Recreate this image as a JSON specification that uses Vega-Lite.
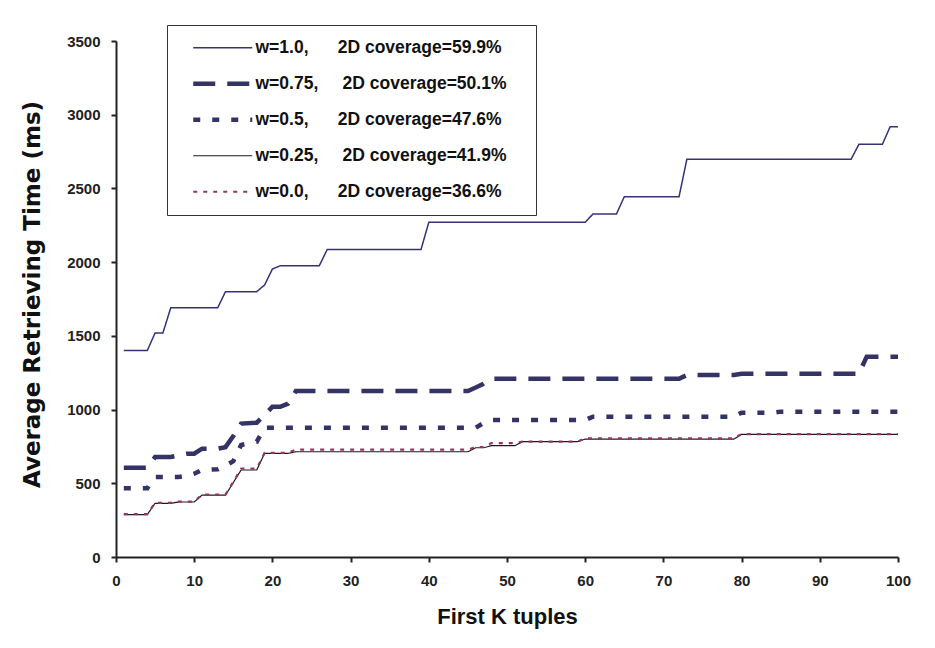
{
  "$schema": "https://vega.github.io/schema/vega-lite/v6.json",
  "width": 782,
  "height": 516,
  "autosize": {"type": "none"},
  "padding": {"left": 116, "top": 41, "right": 37, "bottom": 91},
  "background": "white",
  "config": {
    "view": {"stroke": null},
    "font": "Liberation Sans",
    "legend": {
      "orient": "none",
      "legendX": 51,
      "legendY": -16,
      "title": null,
      "symbolType": "M-6,0H6",
      "symbolSize": 96.7,
      "labelFont": "Liberation Sans",
      "labelFontSize": 17.5,
      "labelFontWeight": "bold",
      "labelColor": "#111111",
      "symbolOffset": 33,
      "labelOffset": 24,
      "labelLimit": 600,
      "padding": 14,
      "rowPadding": 17,
      "strokeColor": "#333333",
      "fillColor": "white"
    }
  },
  "data": {
    "values": [
      {"K": 1, "time": 1400, "w": "1.0"}, {"K": 4, "time": 1400, "w": "1.0"}, {"K": 5, "time": 1520, "w": "1.0"}, {"K": 6, "time": 1520, "w": "1.0"}, {"K": 7, "time": 1690, "w": "1.0"}, {"K": 13, "time": 1690, "w": "1.0"}, {"K": 14, "time": 1800, "w": "1.0"}, {"K": 18, "time": 1800, "w": "1.0"}, {"K": 19, "time": 1845, "w": "1.0"}, {"K": 20, "time": 1953, "w": "1.0"}, {"K": 21, "time": 1976, "w": "1.0"}, {"K": 26, "time": 1976, "w": "1.0"}, {"K": 27, "time": 2085, "w": "1.0"}, {"K": 39, "time": 2085, "w": "1.0"}, {"K": 40, "time": 2270, "w": "1.0"}, {"K": 60, "time": 2270, "w": "1.0"}, {"K": 61, "time": 2327, "w": "1.0"}, {"K": 64, "time": 2327, "w": "1.0"}, {"K": 65, "time": 2444, "w": "1.0"}, {"K": 72, "time": 2444, "w": "1.0"}, {"K": 73, "time": 2698, "w": "1.0"}, {"K": 94, "time": 2698, "w": "1.0"}, {"K": 95, "time": 2799, "w": "1.0"}, {"K": 98, "time": 2799, "w": "1.0"}, {"K": 99, "time": 2919, "w": "1.0"}, {"K": 100, "time": 2919, "w": "1.0"},
      {"K": 1, "time": 606, "w": "0.75"}, {"K": 4, "time": 606, "w": "0.75"}, {"K": 5, "time": 678, "w": "0.75"}, {"K": 7, "time": 678, "w": "0.75"}, {"K": 8, "time": 690, "w": "0.75"}, {"K": 9, "time": 701, "w": "0.75"}, {"K": 10, "time": 701, "w": "0.75"}, {"K": 11, "time": 735, "w": "0.75"}, {"K": 13, "time": 735, "w": "0.75"}, {"K": 14, "time": 745, "w": "0.75"}, {"K": 15, "time": 820, "w": "0.75"}, {"K": 16, "time": 905, "w": "0.75"}, {"K": 18, "time": 911, "w": "0.75"}, {"K": 19, "time": 963, "w": "0.75"}, {"K": 20, "time": 1019, "w": "0.75"}, {"K": 21, "time": 1019, "w": "0.75"}, {"K": 22, "time": 1040, "w": "0.75"}, {"K": 23, "time": 1126, "w": "0.75"}, {"K": 45, "time": 1126, "w": "0.75"}, {"K": 46, "time": 1150, "w": "0.75"}, {"K": 47, "time": 1175, "w": "0.75"}, {"K": 48, "time": 1209, "w": "0.75"}, {"K": 72, "time": 1209, "w": "0.75"}, {"K": 73, "time": 1234, "w": "0.75"}, {"K": 79, "time": 1234, "w": "0.75"}, {"K": 80, "time": 1243, "w": "0.75"}, {"K": 95, "time": 1243, "w": "0.75"}, {"K": 96, "time": 1359, "w": "0.75"}, {"K": 100, "time": 1359, "w": "0.75"},
      {"K": 1, "time": 466, "w": "0.5"}, {"K": 4, "time": 466, "w": "0.5"}, {"K": 5, "time": 543, "w": "0.5"}, {"K": 8, "time": 543, "w": "0.5"}, {"K": 9, "time": 550, "w": "0.5"}, {"K": 10, "time": 565, "w": "0.5"}, {"K": 11, "time": 590, "w": "0.5"}, {"K": 13, "time": 595, "w": "0.5"}, {"K": 14, "time": 620, "w": "0.5"}, {"K": 15, "time": 650, "w": "0.5"}, {"K": 16, "time": 760, "w": "0.5"}, {"K": 17, "time": 770, "w": "0.5"}, {"K": 18, "time": 782, "w": "0.5"}, {"K": 19, "time": 877, "w": "0.5"}, {"K": 46, "time": 877, "w": "0.5"}, {"K": 47, "time": 909, "w": "0.5"}, {"K": 48, "time": 929, "w": "0.5"}, {"K": 60, "time": 929, "w": "0.5"}, {"K": 61, "time": 952, "w": "0.5"}, {"K": 79, "time": 952, "w": "0.5"}, {"K": 80, "time": 979, "w": "0.5"}, {"K": 84, "time": 979, "w": "0.5"}, {"K": 85, "time": 986, "w": "0.5"}, {"K": 100, "time": 986, "w": "0.5"},
      {"K": 1, "time": 288, "w": "0.25"}, {"K": 4, "time": 288, "w": "0.25"}, {"K": 5, "time": 364, "w": "0.25"}, {"K": 7, "time": 364, "w": "0.25"}, {"K": 8, "time": 373, "w": "0.25"}, {"K": 10, "time": 373, "w": "0.25"}, {"K": 11, "time": 420, "w": "0.25"}, {"K": 14, "time": 420, "w": "0.25"}, {"K": 15, "time": 505, "w": "0.25"}, {"K": 16, "time": 590, "w": "0.25"}, {"K": 18, "time": 590, "w": "0.25"}, {"K": 19, "time": 703, "w": "0.25"}, {"K": 22, "time": 703, "w": "0.25"}, {"K": 23, "time": 714, "w": "0.25"}, {"K": 45, "time": 714, "w": "0.25"}, {"K": 46, "time": 741, "w": "0.25"}, {"K": 47, "time": 741, "w": "0.25"}, {"K": 48, "time": 755, "w": "0.25"}, {"K": 51, "time": 755, "w": "0.25"}, {"K": 52, "time": 782, "w": "0.25"}, {"K": 59, "time": 782, "w": "0.25"}, {"K": 60, "time": 800, "w": "0.25"}, {"K": 79, "time": 800, "w": "0.25"}, {"K": 80, "time": 832, "w": "0.25"}, {"K": 100, "time": 832, "w": "0.25"},
      {"K": 1, "time": 291, "w": "0.0"}, {"K": 4, "time": 291, "w": "0.0"}, {"K": 5, "time": 367, "w": "0.0"}, {"K": 7, "time": 367, "w": "0.0"}, {"K": 8, "time": 376, "w": "0.0"}, {"K": 10, "time": 376, "w": "0.0"}, {"K": 11, "time": 423, "w": "0.0"}, {"K": 14, "time": 423, "w": "0.0"}, {"K": 15, "time": 510, "w": "0.0"}, {"K": 16, "time": 600, "w": "0.0"}, {"K": 18, "time": 600, "w": "0.0"}, {"K": 19, "time": 706, "w": "0.0"}, {"K": 22, "time": 706, "w": "0.0"}, {"K": 23, "time": 728, "w": "0.0"}, {"K": 45, "time": 728, "w": "0.0"}, {"K": 46, "time": 746, "w": "0.0"}, {"K": 47, "time": 746, "w": "0.0"}, {"K": 48, "time": 773, "w": "0.0"}, {"K": 51, "time": 773, "w": "0.0"}, {"K": 52, "time": 782, "w": "0.0"}, {"K": 59, "time": 782, "w": "0.0"}, {"K": 60, "time": 805, "w": "0.0"}, {"K": 79, "time": 805, "w": "0.0"}, {"K": 80, "time": 834, "w": "0.0"}, {"K": 100, "time": 834, "w": "0.0"}
    ]
  },
  "encoding": {
    "x": {
      "field": "K",
      "type": "quantitative",
      "scale": {"domain": [0, 100], "nice": false, "zero": false},
      "axis": {
        "values": [0, 10, 20, 30, 40, 50, 60, 70, 80, 90, 100],
        "title": "First K tuples",
        "titleFont": "Liberation Sans",
        "titleFontSize": 22,
        "titleFontWeight": "bold",
        "titleColor": "#111111",
        "titlePadding": 18,
        "labelFont": "Liberation Sans",
        "labelFontSize": 15,
        "labelFontWeight": "bold",
        "labelColor": "#222222",
        "labelPadding": 11,
        "labelFlush": false,
        "tickSize": 5,
        "tickWidth": 2,
        "tickColor": "#222222",
        "domainWidth": 2,
        "domainColor": "#222222",
        "grid": false
      }
    },
    "y": {
      "field": "time",
      "type": "quantitative",
      "scale": {"domain": [0, 3500], "nice": false},
      "axis": {
        "values": [0, 500, 1000, 1500, 2000, 2500, 3000, 3500],
        "format": "d",
        "title": "Average Retrieving Time (ms)",
        "titleFont": "DejaVu Sans",
        "titleFontSize": 23,
        "titleFontWeight": "bold",
        "titleColor": "#111111",
        "titlePadding": 22,
        "titleY": 253,
        "labelFont": "Liberation Sans",
        "labelFontSize": 15,
        "labelFontWeight": "bold",
        "labelColor": "#222222",
        "labelPadding": 11,
        "labelFlush": false,
        "tickSize": 5,
        "tickWidth": 2,
        "tickColor": "#222222",
        "domainWidth": 2,
        "domainColor": "#222222",
        "grid": false
      }
    },
    "color": {
      "field": "w",
      "type": "nominal",
      "scale": {"domain": ["1.0", "0.75", "0.5", "0.25", "0.0"], "range": ["#333377", "#333366", "#333366", "#1a1a1a", "#993366"]},
      "legend": {
        "symbolStrokeWidth": {"expr": "datum.value == '0.75' || datum.value == '0.5' ? 4.5 : datum.value == '0.0' ? 2.2 : datum.value == '0.25' ? 1.2 : 1.5"},
        "labelExpr": "datum.label == '1.0' ? 'w=1.0,\u00a0\u00a0\u00a0\u00a0\u00a0\u00a02D coverage=59.9%\u00a0\u00a0\u00a0\u00a0\u200b' : datum.label == '0.75' ? 'w=0.75,\u00a0\u00a0\u00a0\u00a0\u00a02D coverage=50.1%' : datum.label == '0.5' ? 'w=0.5,\u00a0\u00a0\u00a0\u00a0\u00a0\u00a02D coverage=47.6%' : datum.label == '0.25' ? 'w=0.25,\u00a0\u00a0\u00a0\u00a0\u00a02D coverage=41.9%' : 'w=0.0,\u00a0\u00a0\u00a0\u00a0\u00a0\u00a02D coverage=36.6%'"
      }
    },
    "strokeDash": {
      "field": "w",
      "type": "nominal",
      "scale": {"domain": ["1.0", "0.75", "0.5", "0.25", "0.0"], "range": [[1, 0], [22, 12], [7, 12], [1, 0], [4, 6]]},
      "legend": {
        "symbolStrokeWidth": {"expr": "datum.value == '0.75' || datum.value == '0.5' ? 4.5 : datum.value == '0.0' ? 2.2 : datum.value == '0.25' ? 1.2 : 1.5"},
        "labelExpr": "datum.label == '1.0' ? 'w=1.0,\u00a0\u00a0\u00a0\u00a0\u00a0\u00a02D coverage=59.9%\u00a0\u00a0\u00a0\u00a0\u200b' : datum.label == '0.75' ? 'w=0.75,\u00a0\u00a0\u00a0\u00a0\u00a02D coverage=50.1%' : datum.label == '0.5' ? 'w=0.5,\u00a0\u00a0\u00a0\u00a0\u00a0\u00a02D coverage=47.6%' : datum.label == '0.25' ? 'w=0.25,\u00a0\u00a0\u00a0\u00a0\u00a02D coverage=41.9%' : 'w=0.0,\u00a0\u00a0\u00a0\u00a0\u00a0\u00a02D coverage=36.6%'"
      }
    }
  },
  "layer": [
    {
      "transform": [{"filter": {"field": "w", "equal": "1.0"}}],
      "mark": {"type": "line", "strokeWidth": 1.5, "clip": false}
    },
    {
      "transform": [{"filter": {"field": "w", "oneOf": ["0.75", "0.5"]}}],
      "mark": {"type": "line", "strokeWidth": 4.5, "clip": false}
    },
    {
      "transform": [{"filter": {"field": "w", "equal": "0.25"}}],
      "mark": {"type": "line", "strokeWidth": 1.2, "clip": false}
    },
    {
      "transform": [{"filter": {"field": "w", "equal": "0.0"}}],
      "mark": {"type": "line", "strokeWidth": 2.2, "clip": false}
    }
  ]
}
